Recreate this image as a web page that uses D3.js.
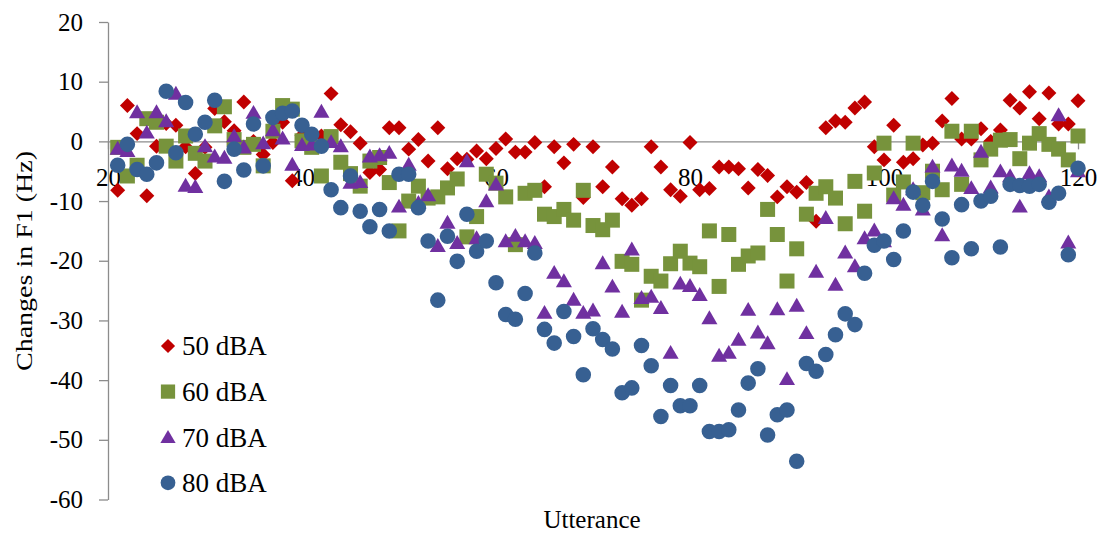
<!DOCTYPE html>
<html>
<head>
<meta charset="utf-8">
<script src="https://cdn.jsdelivr.net/npm/d3@7"></script>
<style>
  body { margin: 0; background: #fff; }
  text { font-family: "Liberation Serif", "Times New Roman", serif; fill: #000; }
</style>
</head>
<body>
<div id="chart"></div>
<script>
const utterances = d3.range(21, 121);

const dba50 = [
  -8.2, 6.0, 1.3, -9.1, -0.8, 3, 2.7, -0.9, -5.4, -1,
  5.5, 3.3, 1.8, 6.6, 0, -2.2, -0.2, 3.2, -6.6, 1,
  1, 0.9, 8.0, 2.8, 1.6, -0.3, -5.2, -4.7, 2.3, 2.3,
  -1.3, 0.3, -3.3, 2.3, -4.6, -2.9, -3, -1.6, -2.9, -1.2,
  0.4, -1.8, -1.8, -0.2, -7.6, -0.9, -3.6, -0.5, -9.4, -0.9,
  -7.6, -4.3, -9.6, -10.7, -9.6, -0.9, -4.3, -8.1, -9.2, -0.2,
  -8.1, -7.9, -4.3, -4.3, -4.6, -7.8, -4.7, -5.7, -9.3, -7.6,
  -8.5, -6.9, -13.4, 2.3, 3.4, 3.2, 5.6, 6.6, -0.9, -3.1,
  2.7, -3.5, -2.9, -0.6, -0.3, 3.4, 7.2, 0.4, 0.4, 2.1,
  0, 1.9, 6.9, 5.6, 8.3, 3.8, 8.1, 2.9, 2.9, 6.8
];

const dba60 = [
  -1, -5.8, -4, 3.8, 3.2, -0.8, -3.3, 0.9, -2, -3.3,
  2.6, 5.8, 0.3, -1, -0.5, -4.1, 1.7, 6.0, 5.4, 0.1,
  -1, -5.8, 0.8, -3.5, -5.4, -7.5, -3.3, -2.7, -6.9, -15,
  -10, -7.5, -9.5, -9.3, -7.8, -6.3, -16, -12.6, -5.5, -7,
  -9.3, -17.3, -8.7, -8.2, -12.2, -12.6, -11.4, -13.2, -8.2, -14.1,
  -14.8, -13.2, -20.1, -20.6, -26.6, -22.6, -23.4, -20.5, -18.4, -20.4,
  -21, -15, -24.3, -15.6, -20.6, -19.2, -18.7, -11.4, -15.6, -23.4,
  -18, -12.2, -8.7, -7.6, -9.5, -13.8, -6.7, -11.7, -5.3, -0.3,
  -9, -6.8, -0.3, -8.6, -5, -8.1, 1.7, -7.2, 1.7, -3.1,
  -1.3, 0.2, 0.3, -2.9, -0.3, 1.3, -0.5, -1.3, -3.1, 0.9
];

const dba70 = [
  -1.2, -1.6, 4.9, 1.5, 4.9, 3.4, 8.0, -7.4, -7.6, -0.8,
  -2.5, -2.7, 0.9, -1, 4.8, -0.3, 1.9, 0.5, -3.9, -0.6,
  -0.5, 5.0, -0.1, -0.8, -6.9, -6.8, -2.5, -2.3, -1.9, -10.9,
  -3.9, -10.3, -9, -17.5, -13.6, -17, -3.3, -16.2, -10, -7.2,
  -16.7, -15.8, -16.7, -17, -28.7, -22, -23.4, -26.5, -28.7, -28.3,
  -20.4, -24.3, -28.5, -18.1, -26.2, -26, -27.9, -35.4, -23.8, -24.2,
  -25.7, -29.6, -35.9, -35.4, -33.2, -28.2, -32, -33.8, -28.1, -39.8,
  -27.5, -32.1, -21.8, -12.8, -24, -18.6, -20.9, -16.2, -14.9, -16.7,
  -9.5, -10.6, -8, -11.4, -4.2, -15.7, -4, -4.9, -7.8, -1.7,
  -7.7, -5, -5.8, -10.9, -5.3, -5.8, -9.2, 4.4, -16.9, -5
];

const dba80 = [
  -4, -0.5, -4.7, -5.5, -3.6, 8.4, -1.9, 6.5, 1.2, 3.2,
  6.9, -6.7, -1.3, -4.8, 2.9, -4.1, 4, 4.7, 5.1, 2.7,
  1.2, -0.8, -8.1, -11.1, -5.8, -11.7, -14.3, -11.4, -15, -5.5,
  -5.5, -11.1, -16.7, -26.6, -15.9, -20.1, -12.2, -18.4, -16.7, -23.7,
  -29, -29.8, -25.5, -18.7, -31.5, -33.8, -28.5, -32.7, -39.1, -31.4,
  -33.2, -34.8, -42.1, -41.3, -34.2, -37.6, -46.1, -40.9, -44.3, -44.3,
  -40.9, -48.6, -48.6, -48.3, -45, -40.5, -38.1, -49.2, -45.8, -45,
  -53.6, -37.2, -38.5, -35.7, -32.4, -28.9, -30.7, -22.1, -17.4, -16.7,
  -19.8, -15, -8.5, -10.7, -6.7, -13, -19.5, -10.6, -18, -10,
  -9.2, -17.7, -7.2, -7.4, -7.5, -7.2, -10.2, -8.7, -19, -4.5
];

const seriesNames = ["50 dBA", "60 dBA", "70 dBA", "80 dBA"];
const xTicks = [20, 40, 60, 80, 100, 120];
const yTicks = [-60, -50, -40, -30, -20, -10, 0, 10, 20];

const width = 1107;
const height = 533;

const x = d3.scaleLinear().domain([20, 120]).range([108, 1078]);
const y = d3.scaleLinear().domain([-60, 20]).range([499.5, 22]);

const svg = d3
  .select("#chart")
  .append("svg")
  .attr("width", width)
  .attr("height", height)
  .style("display", "block");

svg.append("rect").attr("width", width).attr("height", height).attr("fill", "#fff");

// y axis
const yAxis = svg
  .append("g")
  .attr("transform", "translate(108,0)")
  .call(d3.axisLeft(y).tickValues(yTicks).tickSize(9).tickSizeOuter(0).tickPadding(16));
yAxis.select(".domain").attr("stroke", "#8c8c8c").attr("stroke-width", 1.3);
yAxis.selectAll(".tick line").attr("stroke", "#8c8c8c").attr("stroke-width", 1.3);
yAxis.selectAll(".tick text")
  .attr("font-size", 25)
  .attr("font-family", "Liberation Serif, Times New Roman, serif")
  .attr("fill", "#000")
  .text((d) => d);

// x axis sits on zero
const xAxis = svg
  .append("g")
  .attr("transform", `translate(0,${y(0)})`)
  .call(d3.axisBottom(x).tickValues(xTicks).tickSize(8).tickSizeOuter(0).tickPadding(19));
xAxis.select(".domain").attr("stroke", "#8c8c8c").attr("stroke-width", 1.3);
xAxis.selectAll(".tick line").attr("stroke", "#8c8c8c").attr("stroke-width", 1.3);
xAxis.selectAll(".tick text")
  .attr("font-size", 25)
  .attr("font-family", "Liberation Serif, Times New Roman, serif")
  .attr("fill", "#000");

const styles = [
  { color: "#c00000", shape: d3.symbolSquare, size: 112, rotate: 45 },
  { color: "#77933c", shape: d3.symbolSquare, size: 225, rotate: 0 },
  { color: "#7030a0", shape: d3.symbolTriangle, size: 112, rotate: 0 },
  { color: "#376092", shape: d3.symbolCircle, size: 190, rotate: 0 }
];

const allSeries = [dba50, dba60, dba70, dba80];

allSeries.forEach((values, i) => {
  const st = styles[i];
  const sym = d3.symbol().type(st.shape).size(st.size);
  svg
    .append("g")
    .selectAll("path")
    .data(values.map((v, j) => ({ u: utterances[j], v: v })))
    .join("path")
    .attr("d", sym)
    .attr("fill", st.color)
    .attr("transform", (d) => {
      const dy = st.shape === d3.symbolTriangle ? 1.5 : 0;
      return `translate(${x(d.u)},${y(d.v) + dy}) rotate(${st.rotate})`;
    });
});

// axis titles
svg
  .append("text")
  .attr("transform", "translate(32,261) rotate(-90)")
  .attr("text-anchor", "middle")
  .attr("font-size", 24)
  .attr("textLength", 220)
  .attr("lengthAdjust", "spacingAndGlyphs")
  .text("Changes  in  F1 (Hz)");

svg
  .append("text")
  .attr("x", 592)
  .attr("y", 528)
  .attr("text-anchor", "middle")
  .attr("font-size", 25)
  .text("Utterance");

// legend
const legend = svg.append("g").attr("transform", "translate(168,346)");
seriesNames.forEach((name, i) => {
  const st = styles[i];
  const row = legend.append("g").attr("transform", `translate(0,${i * 45.6})`);
  row
    .append("path")
    .attr("d", d3.symbol().type(st.shape).size(st.size * 0.9))
    .attr("fill", st.color)
    .attr("transform", `translate(0,${st.shape === d3.symbolTriangle ? 1.5 : 0}) rotate(${st.rotate})`);
  row
    .append("text")
    .attr("x", 14)
    .attr("y", 0)
    .attr("dy", "0.35em")
    .attr("font-size", 27)
    .text(name);
});
</script>
</body>
</html>
